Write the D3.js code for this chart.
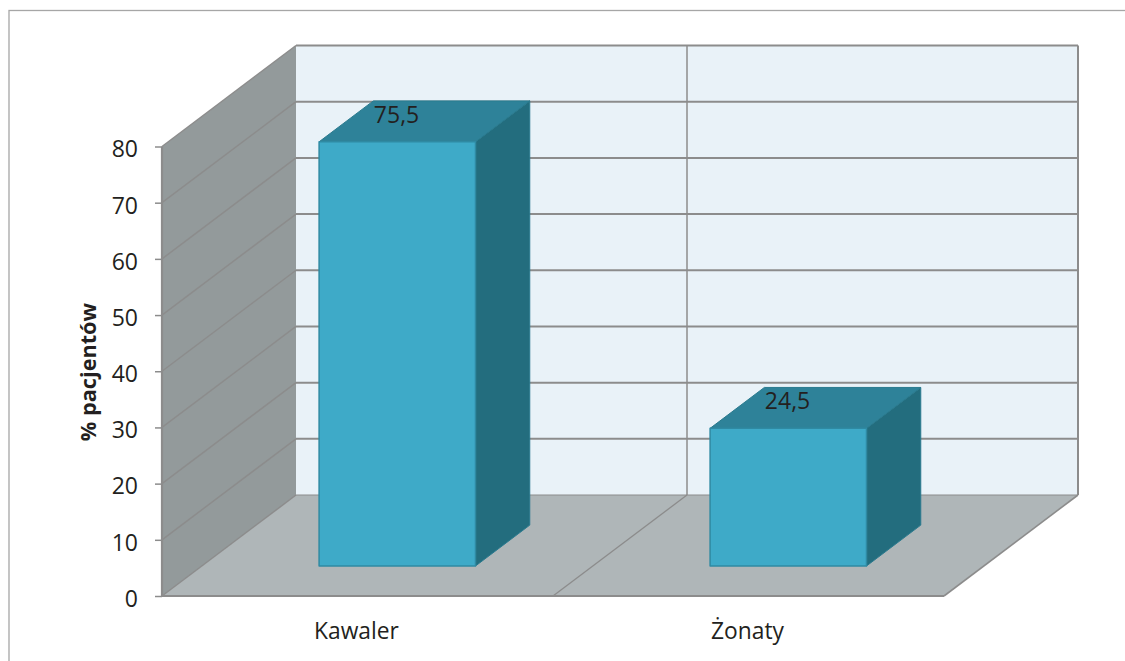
<!DOCTYPE html>
<html><head><meta charset="utf-8">
<script src="https://cdn.jsdelivr.net/npm/d3@7"></script>
<style>html,body{margin:0;padding:0;background:#fff}svg{display:block}text{font-family:"Open Sans","Noto Sans",sans-serif;fill:#231f20}</style>
</head><body><svg id="c" width="1125" height="661"></svg>
<script>
const categories = ["Kawaler", "Żonaty"];
const values = [75.5, 24.5];
const valueLabels = ["75,5", "24,5"];
const yTicks = [0, 10, 20, 30, 40, 50, 60, 70, 80];
const yTitle = "% pacjentów";

const svg = d3.select("#c");
const y = d3.scaleLinear().domain([0, 80]).range([596, 146.5]);
const x = d3.scaleBand().domain(categories).range([162, 944]).paddingInner(0.6).paddingOuter(0.3);
const DX = 134, DY = 101;
const P = (px, v, z) => [px + DX * z, y(v) - DY * z];
const poly = (pts, fill, stroke, sw) => svg.append("path")
  .attr("d", d3.line()(pts) + "Z").attr("fill", fill)
  .attr("stroke", stroke || "none").attr("stroke-width", sw || 0).attr("stroke-linejoin", "round");
const grid = "#8c8c8c";

svg.append("rect").attr("x", 9).attr("y", 10.5).attr("width", 1200).attr("height", 800)
  .attr("fill", "#fff").attr("stroke", "#a6a6a6").attr("stroke-width", 1.3);

const [x0, x1] = x.range();
const xm = (x0 + x1) / 2;
// walls
poly([P(x0, 0, 1), P(x1, 0, 1), P(x1, 80, 1), P(x0, 80, 1)], "#e9f2f8");
poly([P(x0, 0, 0), P(x0, 0, 1), P(x0, 80, 1), P(x0, 80, 0)], "#939a9b");
poly([P(x0, 0, 0), P(x1, 0, 0), P(x1, 0, 1), P(x0, 0, 1)], "#afb6b8");
// gridlines
const ln = (a, b, w, c) => svg.append("line").attr("x1", a[0]).attr("y1", a[1]).attr("x2", b[0]).attr("y2", b[1])
  .attr("stroke", c || grid).attr("stroke-width", w);
yTicks.forEach(t => {
  ln(P(x0, t, 0), P(x0, t, 1), 1.5);
  ln(P(x0, t, 1), P(x1, t, 1), t === 0 ? 1.2 : 2);
});
ln(P(xm, 80, 1), P(xm, 0, 1), 1.5);
ln(P(xm, 0, 1), P(xm, 0, 0), 1.3);
ln(P(x1, 80, 1), P(x1, 0, 1), 2);
ln(P(x1, 0, 1), P(x1, 0, 0), 1.6);
ln(P(x0, 80, 0), P(x0, 0, 0), 2.2);
ln(P(x0, 0, 0), P(x1, 0, 0), 2.2);

// y axis ticks + labels
const axisG = svg.append("g").attr("transform", `translate(${x0},0)`)
  .call(d3.axisLeft(y).tickValues(yTicks).tickSize(7).tickPadding(17).tickFormat(d3.format("d")));
axisG.select(".domain").remove();
axisG.selectAll("line").attr("stroke", grid).attr("stroke-width", 1.5);
axisG.selectAll("text").attr("font-size", 23).attr("dy", "0.45em")
  .style("font-family", '"Open Sans","Noto Sans",sans-serif').attr("fill", "#231f20");

svg.append("text").attr("transform", "translate(96,372) rotate(-90)").attr("text-anchor", "middle")
  .attr("font-size", 21.7).attr("font-weight", 700).text(yTitle);

// bars
const Z0 = 0.297, Z1 = 0.702;
categories.forEach((c, i) => {
  const l = x(c), r = l + x.bandwidth(), v = values[i];
  poly([P(r, 0, Z0), P(r, 0, Z1), P(r, v, Z1), P(r, v, Z0)], "#236d7e", "#2a7a8e", 1);
  poly([P(l, v, Z0), P(r, v, Z0), P(r, v, Z1), P(l, v, Z1)], "#2e8299", "#2a7a8e", 1);
  poly([P(l, 0, Z0), P(r, 0, Z0), P(r, v, Z0), P(l, v, Z0)], "#3eaac8", "#2f8aa3", 1.5);
  const top = P(l, v, Z1);
  svg.append("text").attr("x", top[0] + 0.5).attr("y", top[1] + 22).attr("text-anchor", "start")
    .attr("font-size", 23).text(valueLabels[i]);
  svg.append("text").attr("x", x(c) + x.bandwidth() / 2 - 1).attr("y", 639).attr("text-anchor", "middle")
    .attr("font-size", 22.8).text(c);
});
</script></body></html>
